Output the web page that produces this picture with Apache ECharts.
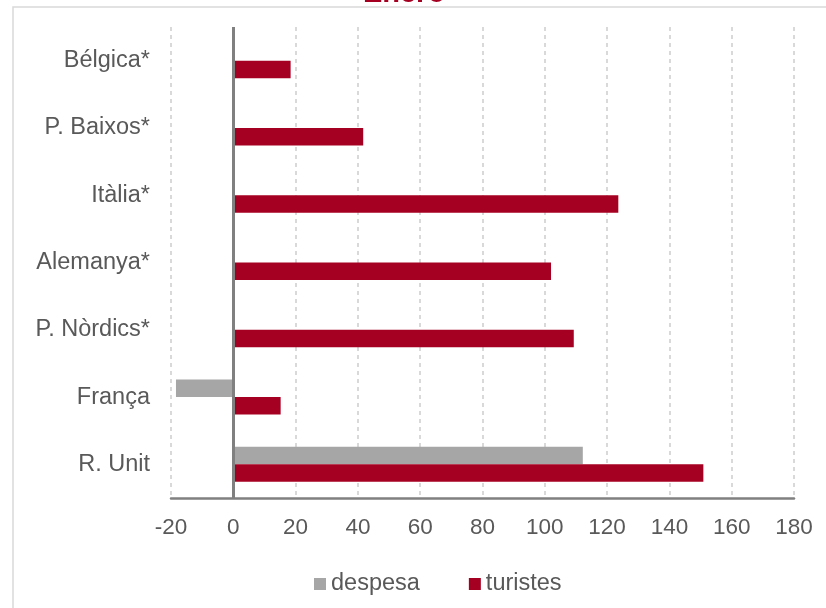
<!DOCTYPE html>
<html>
<head>
<meta charset="utf-8">
<script src="https://cdn.jsdelivr.net/npm/echarts@6/dist/echarts.min.js"></script>
<style>
html,body{margin:0;padding:0;background:#fff;}
#chart{width:826px;height:608px;}
</style>
</head>
<body>
<div id="chart"></div>
<script>
const categories = ['Bélgica*', 'P. Baixos*', 'Itàlia*', 'Alemanya*', 'P. Nòrdics*', 'França', 'R. Unit'];
const despesa = [null, null, null, null, null, -18.4, 112.2];
const turistes = [18.4, 41.7, 123.6, 102.0, 109.3, 15.2, 150.9];
const seriesNames = ['despesa', 'turistes'];
const titleText = 'Enero';
const xMin = -20, xMax = 180, xStep = 20;

const textColor = '#595959';
const font = 'Liberation Sans, Arial, sans-serif';

const chart = echarts.init(document.getElementById('chart'), null, {renderer: 'canvas'});
chart.setOption({
  animation: false,
  backgroundColor: '#ffffff',
  graphic: [
    {type: 'rect', shape: {x: 13, y: 7, width: 900, height: 700},
     style: {fill: 'none', stroke: '#d9d9d9', lineWidth: 1.5}, silent: true, z: -10},
    {type: 'text', x: 404, y: 8,
     style: {text: titleText, fill: '#a50021', font: 'bold 29px ' + font, textAlign: 'center', textVerticalAlign: 'bottom'}}
  ],
  grid: {left: 171, right: 32, top: 27, bottom: 110, containLabel: false},
  legend: {
    data: seriesNames,
    left: 309, top: 567,
    itemWidth: 12, itemHeight: 12, itemGap: 49,
    icon: 'rect',
    textStyle: {color: textColor, fontSize: 23.5, fontFamily: font},
    selectedMode: false
  },
  xAxis: {
    type: 'value', min: xMin, max: xMax, interval: xStep,
    axisLine: {show: true, onZero: false, lineStyle: {color: '#808080', width: 2.5}},
    axisTick: {show: false},
    axisLabel: {color: textColor, fontSize: 22.5, fontFamily: font, margin: 18},
    splitLine: {show: true, lineStyle: {color: '#d9d9d9', width: 2, type: [4, 4]}}
  },
  yAxis: {
    type: 'category', data: categories, inverse: true,
    axisLine: {show: false, onZero: false},
    axisTick: {show: false},
    axisLabel: {color: textColor, fontSize: 23.5, fontFamily: font, margin: 21},
    splitLine: {show: false}
  },
  series: [
    {name: seriesNames[0], type: 'bar', data: despesa, barGap: '0%', barCategoryGap: '48%',
     itemStyle: {color: '#a6a6a6'}},
    {name: seriesNames[1], type: 'bar', data: turistes, barGap: '0%', barCategoryGap: '48%',
     itemStyle: {color: '#a50021'},
     markLine: {silent: true, symbol: ['none', 'none'], label: {show: false},
       lineStyle: {color: '#808080', width: 3, type: 'solid'},
       data: [{xAxis: 0}]}}
  ]
});
</script>
</body>
</html>
